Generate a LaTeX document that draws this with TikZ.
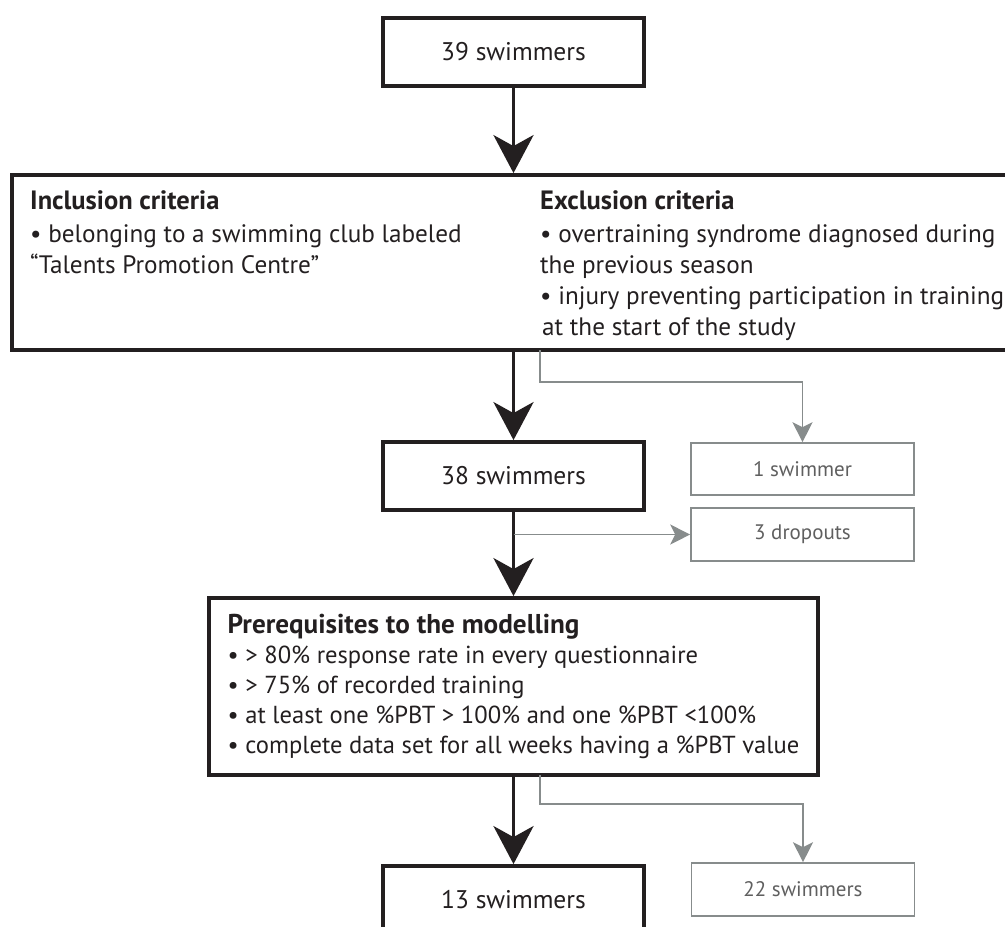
\documentclass[tikz,border=0pt]{standalone}
\usepackage{fontspec}
\setmainfont{PT Sans}
\usetikzlibrary{arrows.meta,positioning}

\definecolor{ink}{RGB}{35,31,32}
\definecolor{greyline}{RGB}{135,140,140}
\definecolor{greytext}{RGB}{95,95,95}

\newcommand{\headfont}{\fontsize{26.5}{31}\selectfont\bfseries}
\newcommand{\prereqhead}{\fontsize{27.2}{30}\selectfont\bfseries}

\tikzset{
  mainbox/.style={draw=ink,line width=3.8pt,minimum width=261pt,minimum height=68pt,
    text=ink,font=\fontsize{25.5}{30}\selectfont},
  sidebox/.style={draw=greyline,line width=1.6pt,minimum width=223pt,minimum height=53pt,
    text=greytext,font=\fontsize{21}{25}\selectfont},
  critbox/.style={draw=ink,line width=3.8pt},
  crittext/.style={anchor=north west,align=left,inner sep=0pt,text=ink,
    font=\fontsize{25.2}{31}\selectfont},
  flow/.style={draw=ink,line width=3.8pt,-{Stealth[length=38pt,width=40pt,inset=11pt]}},
  side/.style={draw=greyline,line width=1.6pt,-{Stealth[length=20pt,width=20pt,inset=5pt]}},
}

\begin{document}
\begin{tikzpicture}[x=1pt,y=1pt]
\useasboundingbox (0,0) rectangle (1005,-927);

% main column
\node[mainbox] (start) at (513.5,-52) {39 swimmers};
\node[critbox,minimum width=1000pt,minimum height=175pt] (crit) at (512,-262.5) {};
\node[crittext] (incl) at (30,-190) {{\headfont Inclusion criteria}\\[2pt]
  • belonging to a swimming club labeled\\
  “Talents Promotion Centre”};
\node[crittext] (excl) at (540,-190) {{\headfont Exclusion criteria}\\[2pt]
  • overtraining syndrome diagnosed during\\
  the previous season\\
  • injury preventing participation in training\\
  \hspace{2pt}at the start of the study};
\node[mainbox] (mid) at (513.5,-476) {38 swimmers};
\node[critbox,minimum width=609pt,minimum height=177pt,align=left,
  inner xsep=17pt,text=ink,font=\fontsize{24.6}{30}\selectfont] (prereq) at (513.5,-686.5)
  {{\prereqhead Prerequisites to the modelling}\\
  • > 80\% response rate in every questionnaire\\
  • > 75\% of recorded training\\
  • at least one \%PBT > 100\% and one \%PBT <100\%\\
  • complete data set for all weeks having a \%PBT value};
\node[mainbox] (final) at (513.5,-900) {13 swimmers};

% excluded
\node[sidebox,minimum height=52pt] (lost1) at (802.5,-469) {1 swimmer};
\node[sidebox] (drop) at (802.5,-534.5) {3 dropouts};
\node[sidebox] (lost2) at (803,-889.5) {22 swimmers};

\draw[flow] (start.south) -- (start.south |- crit.north);
\draw[flow] (mid.north |- crit.south) -- (mid.north);
\draw[flow] (mid.south) -- (prereq.north);
\draw[flow] (prereq.south) -- (final.north);

\coordinate (split1) at (540,-350);
\coordinate (split2) at (540,-775);
\draw[side] (split1) -- ++(0,-32) -| (lost1.north);
\draw[side] (mid.south |- drop.west) -- (drop.west);
\draw[side] (split2) -- ++(0,-29) -| (lost2.north);
\end{tikzpicture}
\end{document}
